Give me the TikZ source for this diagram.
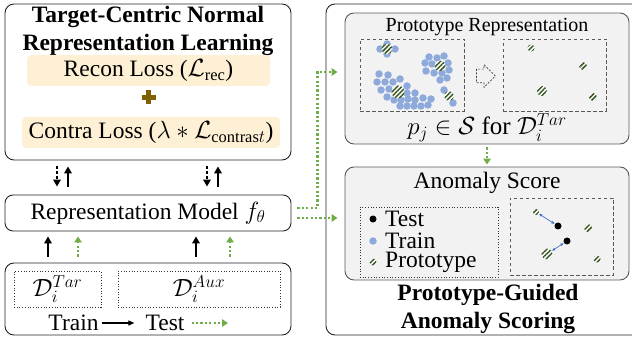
\documentclass[tikz,border=0pt]{standalone}
\usepackage{fontspec}
\setmainfont{Liberation Serif}
\usetikzlibrary{arrows.meta,patterns.meta,shapes.arrows}
\definecolor{hlorange}{HTML}{FDF0D4}
\definecolor{plusbrown}{HTML}{806000}
\definecolor{testgreen}{HTML}{70AD47}
\definecolor{protogreen}{HTML}{375623}
\definecolor{trainblue}{HTML}{8EA9DB}
\definecolor{distblue}{HTML}{4472C4}
\definecolor{panelgray}{HTML}{F2F2F2}
\tikzset{
  txt/.style={font=\fontsize{23.5}{28}\selectfont},
  title/.style={font=\fontsize{23.5}{28}\selectfont\bfseries, align=center, inner sep=0pt},
  box/.style={draw=black!85, line width=0.9pt, rounded corners=9pt, inner sep=0pt},
  panel/.style={box, draw=black!65, fill=panelgray},
  hl/.style={fill=hlorange, rounded corners=4pt, inner sep=0pt, txt},
  dbox/.style={draw=black!80, dotted, line width=0.7pt, inner sep=0pt},
  dashbox/.style={draw=black!65, dash pattern=on 3.5pt off 2.5pt, line width=0.9pt, inner sep=0pt},
  train/.style={circle, fill=trainblue, inner sep=0pt, minimum size=7.5pt},
  test/.style={circle, fill=black, inner sep=0pt, minimum size=7pt},
  proto/.style={circle, preaction={fill=white}, pattern={Lines[angle=45,distance=3.2pt,line width=1.5pt]}, pattern color=protogreen, inner sep=0pt, minimum size=#1},
  proto/.default=11pt,
  solidup/.style={line width=1.8pt, -{Triangle[length=7pt,width=7.5pt]}},
  dashdown/.style={solidup, dash pattern=on 3pt off 2pt},
  testarrow/.style={draw=testgreen, line width=2.2pt, dash pattern=on 2.2pt off 2.2pt, -{Triangle[length=6pt,width=7.5pt]}},
  distarrow/.style={draw=distblue, line width=0.7pt, {Latex[length=3.5pt,width=3pt]}-{Latex[length=3.5pt,width=3pt]}}
}
\begin{document}
\begin{tikzpicture}[x=1pt,y=-1pt]
\useasboundingbox (0,0) rectangle (632,339);
\node[box, minimum width=286pt, minimum height=156pt] (loss) at (148,82) {};
\node[title] (losstitle) at (148,31) {Target-Centric Normal\\Representation Learning};
\node[hl, minimum width=243pt, minimum height=31pt] (recon) at (148.5,70.5) {Recon Loss ($\mathcal{L}_{\mathrm{rec}}$)};
\node[hl, minimum width=258pt, minimum height=31pt] (contra) at (151,132.5) {Contra Loss ($\lambda * \mathcal{L}_{\mathrm{contras}t}$)};
\draw[plusbrown, line width=4.5pt] (148.5,90.5) -- (148.5,104) (141.5,97.3) -- (155.5,97.3);
\node[box, rounded corners=8pt, minimum width=286pt, minimum height=36pt, txt] (rep) at (148,213) {Representation Model $f_\theta$};
\node[box, minimum width=286pt, minimum height=72pt] (data) at (148,299) {};
\node[dbox, minimum width=87pt, minimum height=36pt, txt] (tar) at (57.5,289) {$\mathcal{D}_i^{Tar}$};
\node[dbox, minimum width=162pt, minimum height=36pt, txt] (aux) at (199,289) {$\mathcal{D}_i^{Aux}$};
\node[txt, inner sep=0pt] (train) at (73.5,323) {Train};
\node[txt, inner sep=0pt] (test) at (165,323) {Test};
\coordinate (testend) at (228,323);
\draw[line width=1.2pt, -{Triangle[length=6pt,width=5pt]}, shorten <=3pt, shorten >=11pt] (train) -- (test);
\draw[testarrow, shorten <=7pt] (test) -- (testend);
\draw[dashdown, shorten <=6pt, shorten >=8pt] ([xshift=-91pt]loss.south) -- ([xshift=-91pt]rep.north);
\draw[solidup, shorten <=8pt, shorten >=6pt] ([xshift=-80pt]rep.north) -- ([xshift=-80pt]loss.south);
\draw[dashdown, shorten <=6pt, shorten >=8pt] ([xshift=59pt]loss.south) -- ([xshift=59pt]rep.north);
\draw[solidup, shorten <=8pt, shorten >=6pt] ([xshift=70pt]rep.north) -- ([xshift=70pt]loss.south);
\draw[solidup, shorten <=6pt, shorten >=5pt] ([xshift=-100pt]data.north) -- ([xshift=-100pt]rep.south);
\draw[testarrow, shorten <=6pt, shorten >=5pt] ([xshift=-70pt]data.north) -- ([xshift=-70pt]rep.south);
\draw[solidup, shorten <=6pt, shorten >=5pt] ([xshift=48pt]data.north) -- ([xshift=48pt]rep.south);
\draw[testarrow, shorten <=6pt, shorten >=5pt] ([xshift=82pt]data.north) -- ([xshift=82pt]rep.south);
\draw[black!85, line width=0.9pt, rounded corners=9pt] (632,4) -- (326,4) -- (326,335) -- (632,335);
\node[panel, minimum width=284pt, minimum height=131pt] (protorep) at (487,78.5) {};
\node[font=\fontsize{20}{24}\selectfont] (protitle) at (487,27) {Prototype Representation};
\node[dashbox, minimum width=104pt, minimum height=72pt] (before) at (412,75) {};
\node[dashbox, minimum width=103pt, minimum height=72pt] (after) at (554.5,75) {};
\node[single arrow, draw=black!75, dash pattern=on 2pt off 1.5pt, line width=0.7pt, inner xsep=0pt, inner ysep=6.5pt, minimum height=19pt, single arrow head extend=4.5pt, single arrow head indent=0pt] (cluster) at (482.5,76) {};
\node[train] (tr0) at (380,49) {};
\node[train] (tr1) at (395,49) {};
\node[train] (tr2) at (387,44) {};
\node[train] (tr3) at (387,54) {};
\node[train] (tr4) at (429,57) {};
\node[train] (tr5) at (437,58) {};
\node[train] (tr6) at (444,56) {};
\node[train] (tr7) at (425,63) {};
\node[train] (tr8) at (432,64) {};
\node[train] (tr9) at (448,63) {};
\node[train] (tr10) at (426,71) {};
\node[train] (tr11) at (434,73) {};
\node[train] (tr12) at (442,73) {};
\node[train] (tr13) at (449,70) {};
\node[train] (tr14) at (440,80) {};
\node[train] (tr15) at (447,78) {};
\node[train] (tr16) at (379,74) {};
\node[train] (tr17) at (388,75) {};
\node[train] (tr18) at (377,82) {};
\node[train] (tr19) at (385,82) {};
\node[train] (tr20) at (393,82) {};
\node[train] (tr21) at (400,79) {};
\node[train] (tr22) at (381,90) {};
\node[train] (tr23) at (389,89) {};
\node[train] (tr24) at (407,86) {};
\node[train] (tr25) at (387,97) {};
\node[train] (tr26) at (407,93) {};
\node[train] (tr27) at (415,93) {};
\node[train] (tr28) at (394,100) {};
\node[train] (tr29) at (401,100) {};
\node[train] (tr30) at (408,99) {};
\node[train] (tr31) at (415,100) {};
\node[train] (tr32) at (423,98) {};
\node[train] (tr33) at (431,99) {};
\node[train] (tr34) at (400,106) {};
\node[train] (tr35) at (407,106) {};
\node[train] (tr36) at (414,106) {};
\node[train] (tr37) at (421,106) {};
\node[train] (tr38) at (428,105) {};
\node[train] (tr39) at (444,90) {};
\node[train] (tr40) at (453,103) {};
\node[proto] (pr0) at (387,49) {};
\node[proto] (pr1) at (440,66) {};
\node[proto=13pt] (pr2) at (398,92) {};
\node[proto=10pt] (pr3) at (449,96) {};
\node[proto=7pt] (pr4) at (531,48) {};
\node[proto=8pt] (pr5) at (583,66) {};
\node[proto=10pt] (pr6) at (542,91) {};
\node[proto=8pt] (pr7) at (593,97) {};
\node[font=\fontsize{25}{30}\selectfont] (pjs) at (487,128) {$p_j \in \mathcal{S}$ for $\mathcal{D}_i^{Tar}$};
\node[panel, minimum width=284pt, minimum height=113pt] (anomscore) at (487,223.5) {};
\node[txt] (antitle) at (487,183) {Anomaly Score};
\node[dbox, minimum width=138pt, minimum height=70pt] (legend) at (429,242) {};
\node[test] (lgte) at (373,219) {};
\node[train] (lgtr) at (373,241) {};
\node[proto=7pt] (lgpr) at (373,262) {};
\node[txt, anchor=west, inner sep=0pt] (lgtetxt) at (385,219) {Test};
\node[txt, anchor=west, inner sep=0pt] (lgtrtxt) at (385,241) {Train};
\node[txt, anchor=west, inner sep=0pt] (lgprtxt) at (385,262) {Prototype};
\node[dashbox, minimum width=103pt, minimum height=77pt] (space) at (561.5,236.5) {};
\node[proto=6pt] (q0) at (536,212) {};
\node[test] (te0) at (558,226) {};
\node[proto=8pt] (q1) at (588,228) {};
\node[test] (te1) at (567,241) {};
\node[proto=11pt] (q2) at (547,254) {};
\node[proto=7pt] (q3) at (597,259) {};
\draw[distarrow] (q0) -- (te0);
\draw[distarrow] (q2) -- (te1);
\node[title] (scoretitle) at (488,309) {Prototype-Guided\\Anomaly Scoring};
\draw[testarrow] ([xshift=6pt,yshift=5pt]rep.east) -| ([xshift=-27pt,yshift=6.5pt]protorep.west) -- ([xshift=-7pt,yshift=6.5pt]protorep.west);
\draw[testarrow] ([xshift=6pt,yshift=-5pt]rep.east) -- ([xshift=-7pt,yshift=5.5pt]anomscore.west);
\draw[testarrow, shorten <=3pt, shorten >=2pt] (protorep) -- (anomscore);
\end{tikzpicture}
\end{document}
